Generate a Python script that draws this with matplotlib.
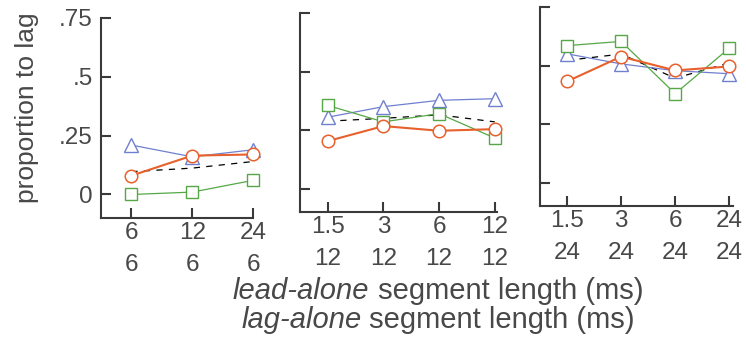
import matplotlib
matplotlib.use("Agg")
import matplotlib.pyplot as plt

# ---- data ----
panel_labels = [
    ["6\n6", "12\n6", "24\n6"],
    ["1.5\n12", "3\n12", "6\n12", "12\n12"],
    ["1.5\n24", "3\n24", "6\n24", "24\n24"],
]
triangle_vals = [
    [0.21, 0.16, 0.19],
    [0.305, 0.35, 0.377, 0.384],
    [0.55, 0.507, 0.478, 0.465],
]
circle_vals = [
    [0.08, 0.165, 0.17],
    [0.203, 0.267, 0.247, 0.254],
    [0.432, 0.538, 0.479, 0.496],
]
square_vals = [
    [0.0, 0.01, 0.06],
    [0.355, 0.285, 0.32, 0.216],
    [0.585, 0.603, 0.38, 0.574],
]
mean_vals = [
    [0.097, 0.112, 0.14],
    [0.288, 0.30, 0.315, 0.285],
    [0.522, 0.549, 0.446, 0.511],
]
ytick_vals = [0, 0.25, 0.5, 0.75]
ytick_labels = ["0", ".25", ".5", ".75"]

RED = "#E8602C"
BLUE = "#6F80D0"
GREEN = "#55A845"
AX = "#3a3a3a"
TXT = "#484848"

W, H = 746, 343
fig = plt.figure(figsize=(W / 100, H / 100), dpi=100)
fig.patch.set_facecolor("white")

plt.rcParams["font.family"] = ["Liberation Sans", "DejaVu Sans"]

# panel boxes in pixel coords: left, right, top, bottom
boxes = [(101, 253, 18, 218), (300, 497, 13, 212), (540, 733, 7, 206)]
xmax = [2.0, 3.04, 3.07]

for i, (l, r, t, b) in enumerate(boxes):
    ax = fig.add_axes([l / W, (H - b) / H, (r - l) / W, (b - t) / H])
    ax.set_facecolor("none")
    n = len(panel_labels[i])
    x = list(range(n))
    ax.plot(x, mean_vals[i], color="black", lw=0.9, ls=(0, (5, 5)), zorder=2,
            clip_on=False)
    ax.plot(x, triangle_vals[i], color=BLUE, lw=0.9, marker="^", ms=10,
            mfc="white", mec=BLUE, mew=1.0, zorder=3, clip_on=False)
    ax.plot(x, square_vals[i], color=GREEN, lw=0.9, marker="s", ms=8.5,
            mfc="white", mec=GREEN, mew=1.0, zorder=3, clip_on=False)
    ax.plot(x, circle_vals[i], color=RED, lw=1.5, marker="o", ms=9,
            mfc="white", mec=RED, mew=1.1, zorder=4, clip_on=False)
    ax.set_xlim(-0.5, xmax[i])
    ax.set_ylim(-0.1, 0.75)
    ax.set_xticks(x)
    ax.set_xticklabels(panel_labels[i], linespacing=1.58)
    ax.set_yticks(ytick_vals)
    if i == 0:
        ax.set_yticklabels(ytick_labels)
    else:
        ax.set_yticklabels([])
    for s in ["top", "right"]:
        ax.spines[s].set_visible(False)
    for s in ["left", "bottom"]:
        ax.spines[s].set_linewidth(1.5)
        ax.spines[s].set_color(AX)
    ax.tick_params(axis="both", direction="in", length=7, width=1.5,
                   color=AX, labelcolor=TXT, labelsize=17.5)
    ax.tick_params(axis="x", pad=3)
    ax.tick_params(axis="y", pad=6)

fig.text(27 / W, 1 - 108 / H, "proportion to lag", rotation=90,
         ha="center", va="center", fontsize=19, color=TXT)


def two_style(y, italic, rest, cx=438, size=21):
    t1 = fig.text(0, 0, italic, fontsize=size, style="italic", color=TXT,
                  va="baseline")
    t2 = fig.text(0, 0, rest, fontsize=size, color=TXT, va="baseline")
    fig.canvas.draw()
    r = fig.canvas.get_renderer()
    w1 = t1.get_window_extent(r).width
    w2 = t2.get_window_extent(r).width
    x0 = cx - (w1 + w2) / 2
    t1.set_position((x0 / W, 1 - y / H))
    t2.set_position(((x0 + w1) / W, 1 - y / H))


two_style(299, "lead-alone", " segment length (ms)")
two_style(328, "lag-alone", " segment length (ms)")

fig.savefig("out.png", dpi=100, facecolor="white")
